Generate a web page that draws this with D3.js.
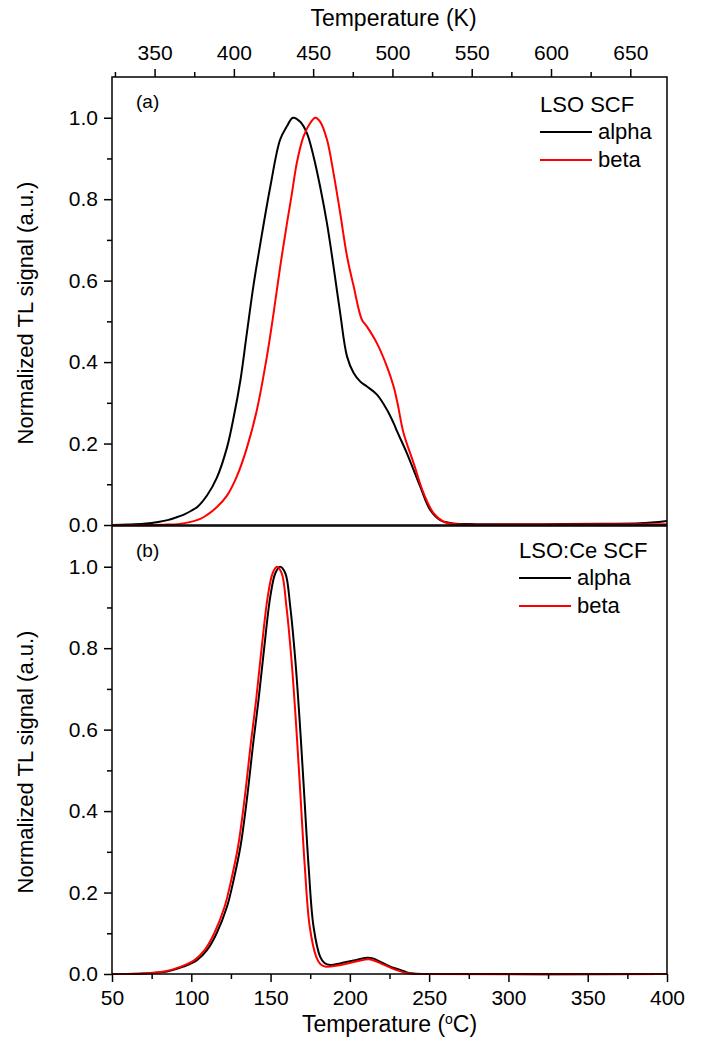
<!DOCTYPE html>
<html>
<head>
<meta charset="utf-8">
<script src="https://cdn.jsdelivr.net/npm/d3@7"></script>
<style>
  body { margin: 0; background: #fff; }
  svg text { font-family: "Liberation Sans", Arial, sans-serif; fill: #000; }
</style>
</head>
<body>
<div id="chart"></div>
<script>
// values (temperature in degC, normalized TL)
var aAlphaT = [50, 60, 70, 80, 85, 90, 95, 100, 104, 110, 116, 122.5, 127, 131, 135, 139.3, 143.5, 149.8, 156, 160.3, 164.1, 168.7, 172.9, 177.1, 181.3, 185.6, 189.7, 193.9, 198.2, 202.4, 206.6, 210.8, 217.1, 223.4, 227.6, 230, 236, 244.4, 250.7, 257, 265, 280, 320, 360, 383, 400];
var aAlpha  = [0, 0.001, 0.003, 0.008, 0.012, 0.018, 0.025, 0.035, 0.045, 0.073, 0.115, 0.19, 0.27, 0.356, 0.47, 0.59, 0.69, 0.83, 0.946, 0.979, 1.0, 0.99, 0.962, 0.905, 0.83, 0.74, 0.635, 0.52, 0.414, 0.373, 0.352, 0.34, 0.32, 0.283, 0.25, 0.228, 0.176, 0.094, 0.037, 0.012, 0.004, 0.002, 0.002, 0.003, 0.004, 0.01];

var aBetaT = [50, 70, 85, 95, 105.7, 110, 116.2, 122.5, 128.8, 135.1, 141.4, 147.7, 151.9, 156.1, 160.3, 163.5, 166.6, 170.8, 175, 178.2, 181.3, 185.6, 189.7, 193.9, 198.2, 202.4, 207.6, 210.8, 217.1, 223.4, 227.6, 230, 233.9, 240.2, 246.5, 252.8, 259.1, 267, 300, 400];
var aBeta  = [0, 0, 0.001, 0.004, 0.015, 0.025, 0.044, 0.072, 0.12, 0.19, 0.283, 0.414, 0.52, 0.635, 0.74, 0.815, 0.89, 0.954, 0.987, 1.0, 0.99, 0.946, 0.864, 0.766, 0.66, 0.586, 0.504, 0.487, 0.446, 0.389, 0.34, 0.3, 0.225, 0.152, 0.078, 0.029, 0.008, 0.002, 0.001, 0.002];

var bAlphaT = [50, 70, 84.7, 95, 103.6, 110, 116, 122.5, 126.7, 131, 135, 139.3, 142.4, 145.6, 149.8, 153, 156, 159.3, 162.4, 165.6, 168.3, 170.8, 174, 177.1, 181.3, 184, 187.6, 193.9, 202.3, 210.8, 214, 217.1, 225.5, 231.8, 236, 240, 250, 400];
var bAlpha  = [0, 0.001, 0.006, 0.018, 0.034, 0.059, 0.1, 0.165, 0.231, 0.313, 0.427, 0.575, 0.673, 0.787, 0.926, 0.984, 1.0, 0.984, 0.902, 0.771, 0.624, 0.468, 0.263, 0.116, 0.042, 0.027, 0.022, 0.026, 0.033, 0.04, 0.039, 0.034, 0.018, 0.01, 0.004, 0.001, 0, 0];

var bBetaT = [50, 70, 83, 93.5, 102, 108.5, 114.5, 121, 125.2, 129.5, 133.5, 137.8, 140.9, 144, 148.2, 151.3, 154, 157, 160, 163.2, 165.9, 168.4, 171.6, 174.7, 178.8, 181.5, 185, 192, 201, 209, 212, 216, 223, 229, 234, 238, 245, 400];
var bBeta  = [0, 0.001, 0.006, 0.018, 0.034, 0.059, 0.1, 0.165, 0.231, 0.313, 0.427, 0.575, 0.673, 0.787, 0.926, 0.984, 1.0, 0.984, 0.902, 0.771, 0.624, 0.468, 0.263, 0.116, 0.042, 0.024, 0.018, 0.021, 0.028, 0.035, 0.036, 0.032, 0.02, 0.01, 0.004, 0.001, 0, 0];

var yTicks = [0, 0.2, 0.4, 0.6, 0.8, 1.0];
var yMinor = [0.1, 0.3, 0.5, 0.7, 0.9];
var cTicks = [50, 100, 150, 200, 250, 300, 350, 400];
var cMinor = [75, 125, 175, 225, 275, 325, 375];
var kTicks = [350, 400, 450, 500, 550, 600, 650];
var kMinor = [325, 375, 425, 475, 525, 575, 625];

var panels = [
  {tag: "(a)", title: "LSO SCF", alphaT: aAlphaT, alpha: aAlpha, betaT: aBetaT, beta: aBeta},
  {tag: "(b)", title: "LSO:Ce SCF", alphaT: bAlphaT, alpha: bAlpha, betaT: bBetaT, beta: bBeta}
];

var W = 702, H = 1041,
    left = 112, right = 667,
    tops = [77, 526], ph = 448;

var svg = d3.select("#chart").append("svg")
    .attr("width", W).attr("height", H);

var x = d3.scaleLinear().domain([50, 400]).range([left, right]);
var xK = d3.scaleLinear().domain([50 + 273.15, 400 + 273.15]).range([left, right]);

function styleAxis(g) {
  g.select(".domain").remove();
  g.selectAll("line").attr("stroke", "#000").attr("stroke-width", 1.5);
  g.selectAll("text").style("font-size", "21px").attr("fill", "#000");
}

panels.forEach(function(p, i) {
  var top = tops[i];
  var y = d3.scaleLinear().domain([0, 1.1]).range([top + ph, top]);
  var g = svg.append("g");

  // y axis, major + minor
  g.append("g").attr("transform", "translate(" + left + ",0)")
    .call(d3.axisLeft(y).tickValues(yTicks).tickFormat(d3.format(".1f")).tickSize(8).tickPadding(6))
    .call(styleAxis);
  g.append("g").attr("transform", "translate(" + left + ",0)")
    .call(d3.axisLeft(y).tickValues(yMinor).tickFormat("").tickSize(5))
    .call(styleAxis);

  var line = d3.line()
      .x(function(d) { return x(d[0]); })
      .y(function(d) { return y(d[1]); })
      .curve(d3.curveCatmullRom.alpha(0.5));

  g.append("path")
    .datum(d3.zip(p.alphaT, p.alpha))
    .attr("fill", "none").attr("stroke", "#000").attr("stroke-width", 2)
    .attr("d", line);
  g.append("path")
    .datum(d3.zip(p.betaT, p.beta))
    .attr("fill", "none").attr("stroke", "#ff0000").attr("stroke-width", 2)
    .attr("d", line);

  // frame
  g.append("rect")
    .attr("x", left).attr("y", top)
    .attr("width", right - left).attr("height", ph)
    .attr("fill", "none").attr("stroke", "#000").attr("stroke-width", 1.5);

  g.append("text").attr("x", 136).attr("y", top + 31)
    .style("font-size", "19px").text(p.tag);

  g.append("text")
    .attr("transform", "translate(33," + (top + ph / 2 + 12) + ") rotate(-90)")
    .attr("text-anchor", "middle")
    .style("font-size", "22px")
    .text("Normalized TL signal (a.u.)");

  // legend
  var lx = i == 0 ? 540 : 519;
  var ly = i == 0 ? top + 35 : top + 32;
  var lg = g.append("g");
  lg.append("text").attr("x", lx).attr("y", ly).style("font-size", "22px").text(p.title);
  [["alpha", "#000"], ["beta", "#ff0000"]].forEach(function(s, j) {
    var yy = ly + 20 + j * 28;
    lg.append("line").attr("x1", lx).attr("x2", lx + 52)
      .attr("y1", yy).attr("y2", yy)
      .attr("stroke", s[1]).attr("stroke-width", 2);
    lg.append("text").attr("x", lx + 58).attr("y", yy + 7)
      .style("font-size", "22px").text(s[0]);
  });
});

// top axis in Kelvin
svg.append("g").attr("transform", "translate(0," + tops[0] + ")")
  .call(d3.axisTop(xK).tickValues(kTicks).tickFormat(d3.format("d")).tickSize(8).tickPadding(9))
  .call(styleAxis);
svg.append("g").attr("transform", "translate(0," + tops[0] + ")")
  .call(d3.axisTop(xK).tickValues(kMinor).tickFormat("").tickSize(5))
  .call(styleAxis);

// bottom axis in Celsius
var bottom = tops[1] + ph;
svg.append("g").attr("transform", "translate(0," + bottom + ")")
  .call(d3.axisBottom(x).tickValues(cTicks).tickFormat(d3.format("d")).tickSize(8).tickPadding(8))
  .call(styleAxis);
svg.append("g").attr("transform", "translate(0," + bottom + ")")
  .call(d3.axisBottom(x).tickValues(cMinor).tickFormat("").tickSize(5))
  .call(styleAxis);

svg.append("text")
  .attr("x", (left + right) / 2 + 4).attr("y", 26)
  .attr("text-anchor", "middle").style("font-size", "23px")
  .text("Temperature (K)");

var xt = svg.append("text")
  .attr("x", (left + right) / 2).attr("y", 1032)
  .attr("text-anchor", "middle").style("font-size", "23px");
xt.append("tspan").text("Temperature (");
xt.append("tspan").attr("dy", -8).style("font-size", "14px").text("o");
xt.append("tspan").attr("dy", 8).text("C)");
</script>
</body>
</html>
